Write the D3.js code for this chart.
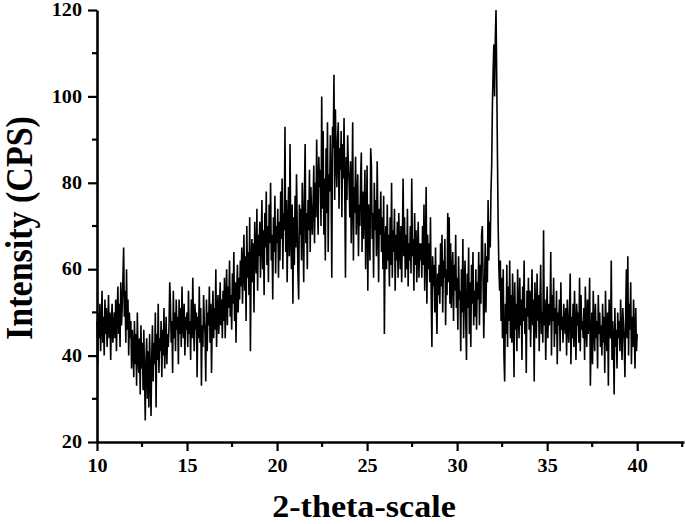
<!DOCTYPE html>
<html><head><meta charset="utf-8">
<script src="https://cdn.jsdelivr.net/npm/d3@7"></script>
<style>html,body{margin:0;padding:0;background:#fff;}svg{display:block;}</style>
</head><body>
<svg id="chart" width="685" height="524"></svg>
<script>
// 2-theta scan: start 10°, step 0.04°, to 40°
const twoThetaStart = 10;
const twoThetaStep = 0.04;
const xTicks = [10, 15, 20, 25, 30, 35, 40];
const yTicks = [20, 40, 60, 80, 100, 120];
const xLabel = "2-theta-scale";
const yLabel = "Intensity (CPS)";

const intensity10to20 = [
48,38,50,44,52,41,47,55,43,49,40,53,45,51,42,47,54,44,50,39,48,52,43,46,50,
44,53,41,50,56,45,52,42,57,47,51,58,65,49,55,43,60,46,53,40,50,44,48,37,46,
42,35,48,38,45,33,50,40,36,44,31,47,37,43,32,46,35,25,39,44,30,41,28,45,36,
26,40,47,34,43,38,50,28,45,39,52,36,44,41,48,35,46,40,51,37,43,49,38,45,42,
47,57,52,43,48,36,55,44,50,41,53,46,49,38,53,45,51,42,56,47,44,52,40,49,46,
50,42,55,45,48,39,53,44,58,47,41,52,46,50,35,49,44,56,43,51,33,47,42,54,48,
45,34,53,41,50,47,56,43,52,36,48,55,44,51,46,60,42,50,54,45,49,57,47,53,44,
55,48,58,44,53,60,47,56,51,62,49,54,46,59,52,64,48,57,43,55,61,50,58,53,62,
56,65,52,60,68,55,63,48,70,58,64,54,72,41,61,67,57,66,50,71,62,59,74,55,68,
63,71,58,67,76,60,69,54,73,65,78,61,70,57,75,66,80,62,68,53,72,64,77,59,70
];
const intensity20to30 = [
66,74,58,71,62,78,67,81,60,73,69,93,64,76,57,70,79,63,89,68,60,75,52,72,61,
77,65,82,70,59,53,75,68,74,62,80,71,57,78,89,66,73,60,76,69,83,64,79,72,68,
75,84,66,80,72,90,77,68,86,79,83,70,100,74,92,68,81,62,88,73,94,64,82,78,91,
80,58,93,88,105,76,97,86,79,90,94,74,88,83,92,72,89,81,95,78,58,86,76,91,84,
80,72,85,66,77,94,62,79,73,86,68,76,82,63,75,70,81,87,64,78,67,74,83,60,72,
84,55,75,70,62,88,84,67,73,58,80,69,76,63,85,71,57,74,68,78,64,72,60,77,45,
66,70,60,75,62,68,56,72,61,80,58,69,64,74,55,68,62,71,58,73,65,60,70,57,67,
81,63,72,58,68,60,74,56,66,62,70,59,81,63,67,55,73,61,69,57,64,71,58,66,62,
66,58,70,61,75,55,64,79,52,68,60,66,57,72,54,42,63,56,61,50,65,53,45,59,54,
61,52,66,56,68,50,62,58,67,47,60,54,73,57,72,52,66,51,59,64,48,61,55,68,51
];
const intensity30to40 = [
58,46,63,53,55,41,60,50,67,44,56,62,48,39,59,51,65,45,57,42,61,52,64,47,55,
49,60,46,57,53,64,47,61,52,68,70,58,44,55,66,50,63,57,76,62,71,65,78,84,98,
106,112,100,113,120,104,86,70,60,55,62,48,58,44,60,40,34,52,45,61,42,56,48,62,44,
54,43,59,49,35,57,46,52,41,60,50,44,58,47,53,39,56,48,62,45,51,36,55,49,58,
46,55,42,51,60,47,53,34,57,50,44,59,48,54,41,52,61,45,50,43,69,47,53,39,49,
56,44,52,47,50,64,40,54,48,58,42,51,45,55,38,50,47,53,41,57,46,49,43,52,48,
45,51,40,53,47,43,50,59,38,49,44,52,42,55,46,39,52,47,50,43,58,41,54,46,48,
44,51,39,56,47,42,53,45,49,58,33,43,50,38,55,46,41,52,44,48,37,54,45,50,42,
47,40,52,43,49,36,55,45,41,50,33,53,46,44,62,39,48,43,31,51,42,46,37,50,44,
48,41,53,45,39,51,47,43,35,50,60,44,63,40,52,46,57,38,49,42,53,45,37,51,41,
45
];

const intensity = intensity10to20.concat(intensity20to30, intensity30to40);
const data = intensity.map((v, i) => ({ x: twoThetaStart + i * twoThetaStep, y: v }));

const svg = d3.select("#chart");
const mLeft = 97, mRight = 684, mTop = 10, mBottom = 442;
const x = d3.scaleLinear().domain([10, 42.6]).range([mLeft, mRight]);
const y = d3.scaleLinear().domain([20, 120]).range([mBottom, mTop]);

const font = "'Liberation Serif','Times New Roman',serif";

// data line
svg.append("path")
  .datum(data)
  .attr("fill", "none")
  .attr("stroke", "#000")
  .attr("stroke-width", 1.6)
  .attr("d", d3.line().x(d => x(d.x)).y(d => y(d.y)));

// minor ticks
const xMinor = d3.range(12.5, 43, 5);
const yMinor = d3.range(30, 120, 20);
svg.append("g").selectAll("line").data(xMinor).join("line")
  .attr("x1", d => x(d)).attr("x2", d => x(d))
  .attr("y1", mBottom).attr("y2", mBottom + 5)
  .attr("stroke", "#000").attr("stroke-width", 2.2);
svg.append("g").selectAll("line").data(yMinor).join("line")
  .attr("x1", mLeft - 5).attr("x2", mLeft)
  .attr("y1", d => y(d)).attr("y2", d => y(d))
  .attr("stroke", "#000").attr("stroke-width", 2.2);

// x axis
const gx = svg.append("g").attr("transform", `translate(0,${mBottom})`)
  .call(d3.axisBottom(x).tickValues(xTicks).tickSize(9).tickPadding(8).tickSizeOuter(0));
// y axis
const gy = svg.append("g").attr("transform", `translate(${mLeft},0)`)
  .call(d3.axisLeft(y).tickValues(yTicks).tickSize(9).tickPadding(6).tickSizeOuter(0));

[gx, gy].forEach(g => {
  g.select(".domain").attr("stroke", "#000").attr("stroke-width", 2.6);
  g.selectAll(".tick line").attr("stroke", "#000").attr("stroke-width", 2.2);
  g.selectAll(".tick text")
    .attr("fill", "#000")
    .style("font-family", font)
    .style("font-weight", "bold")
    .style("font-size", "18px");
});
// slight horizontal stretch of tick labels like the reference
gx.selectAll(".tick text").attr("transform", "scale(1.12,1)");
gy.selectAll(".tick text").attr("x", -15 / 1.12).attr("transform", "scale(1.12,1)");

// axis titles
svg.append("text")
  .attr("transform", "translate(364,517) scale(1.1,1)")
  .attr("text-anchor", "middle")
  .style("font-family", font).style("font-weight", "bold").style("font-size", "31px")
  .text(xLabel);

svg.append("text")
  .attr("transform", "translate(32,228) rotate(-90) scale(1,1.1)")
  .attr("text-anchor", "middle")
  .style("font-family", font).style("font-weight", "bold").style("font-size", "34px")
  .text(yLabel);
</script>
</body></html>
